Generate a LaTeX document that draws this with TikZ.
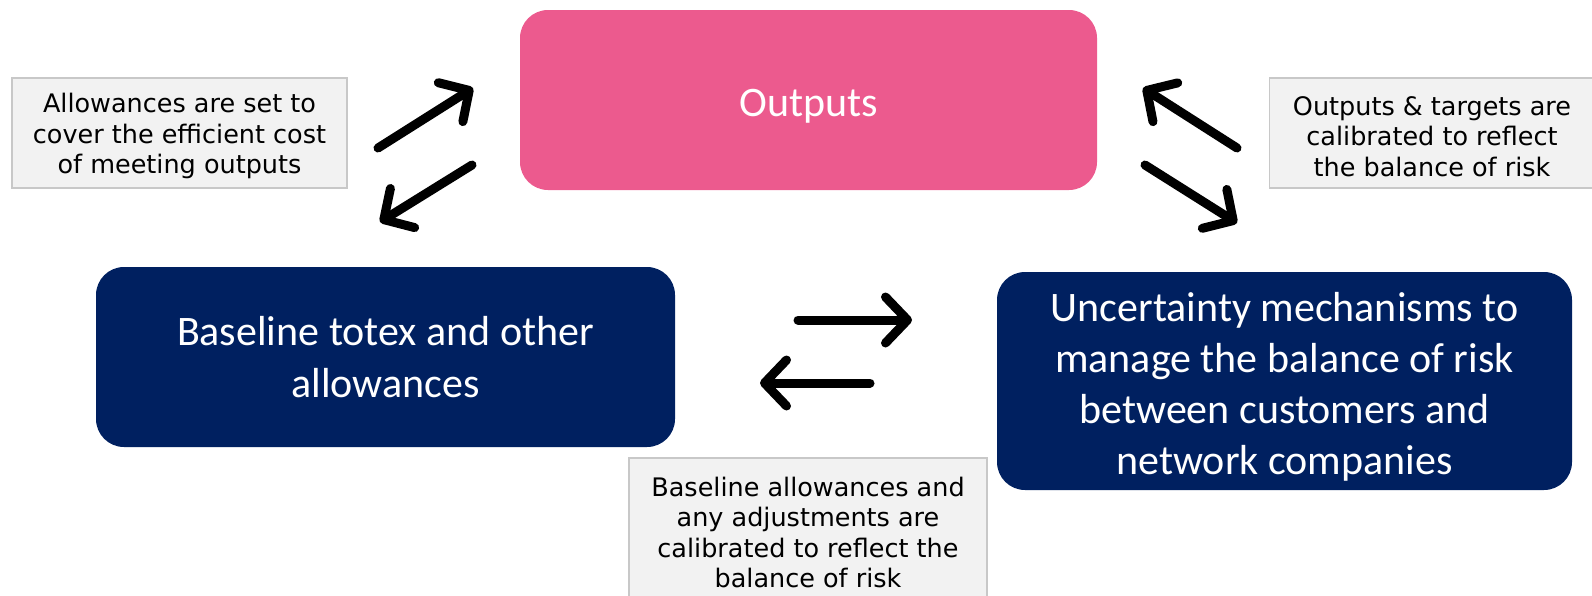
\documentclass[tikz,border=0pt]{standalone}
\usepackage{fontspec}
\usetikzlibrary{arrows.meta}
\newfontfamily\calibfont{Carlito}
\newfontfamily\verdfont{DejaVu Sans}
\definecolor{outpink}{HTML}{EC5A8E}
\definecolor{navyblue}{HTML}{002060}
\definecolor{notegrey}{HTML}{F2F2F2}
\definecolor{noteline}{HTML}{C8C8C8}

\begin{document}
\begin{tikzpicture}[x=1pt,y=-1pt,
    mainbox/.style={rounded corners=28pt, text=white, align=center, inner sep=0pt,
        font=\calibfont\fontsize{42}{52}\selectfont},
    notebox/.style={fill=notegrey, draw=noteline, line width=1.5pt, align=center, inner sep=0pt,
        font=\verdfont\fontsize{25.5}{30.5}\selectfont},
    bigarrow/.style={line width=9pt, line cap=round,
        -{Straight Barb[length=22pt,width=46pt,round]}}]
        \useasboundingbox (0,0) rectangle (1592,595);

        % Main boxes
        \node[mainbox, fill=outpink, minimum width=577pt, minimum height=180pt] (outputs) at (808.5,100) {\rule{0pt}{40pt}Outputs};
        \node[mainbox, fill=navyblue, minimum width=579pt, minimum height=180pt] (baseline) at (385.5,357) {Baseline totex and other\\allowances};
        \node[mainbox, fill=navyblue, minimum width=575pt, minimum height=218pt, font=\calibfont\fontsize{42}{51}\selectfont] (uncert) at (1284.5,381) {\rule{0pt}{40pt}Uncertainty mechanisms to\\manage the balance of risk\\between customers and\\network companies};

        % Notes
        \node[notebox, minimum width=335pt, minimum height=110pt] (noteleft) at (179.5,133) {\rule{0pt}{26pt}Allowances are set to\\cover the efficient cost\\of meeting outputs};
        \node[notebox, minimum width=325pt, minimum height=110pt] (noteright) at (1432,133) {\rule{0pt}{26pt}Outputs \& targets are\\calibrated to reflect\\the balance of risk};
        \node[notebox, minimum width=358pt, minimum height=142pt] (notebottom) at (808,529) {\rule{0pt}{26pt}Baseline allowances and\\any adjustments are\\calibrated to reflect the\\balance of risk};

        % Arrow ends
        \coordinate (lu1) at (378,148);
        \coordinate (lu2) at (473,88);
        \coordinate (ld1) at (472,165);
        \coordinate (ld2) at (380,222);
        \coordinate (ru1) at (1237,148);
        \coordinate (ru2) at (1143,88);
        \coordinate (rd1) at (1145,165);
        \coordinate (rd2) at (1237,223);
        \coordinate (mr1) at (798,320);
        \coordinate (mr2) at (912,320);
        \coordinate (ml1) at (870,383);
        \coordinate (ml2) at (760,383);

        % Arrows
        \draw[bigarrow] (lu1) -- (lu2);
        \draw[bigarrow] (ld1) -- (ld2);
        \draw[bigarrow] (ru1) -- (ru2);
        \draw[bigarrow] (rd1) -- (rd2);
        \draw[bigarrow] (mr1) -- (mr2);
        \draw[bigarrow] (ml1) -- (ml2);

    \end{tikzpicture}
\end{document}
